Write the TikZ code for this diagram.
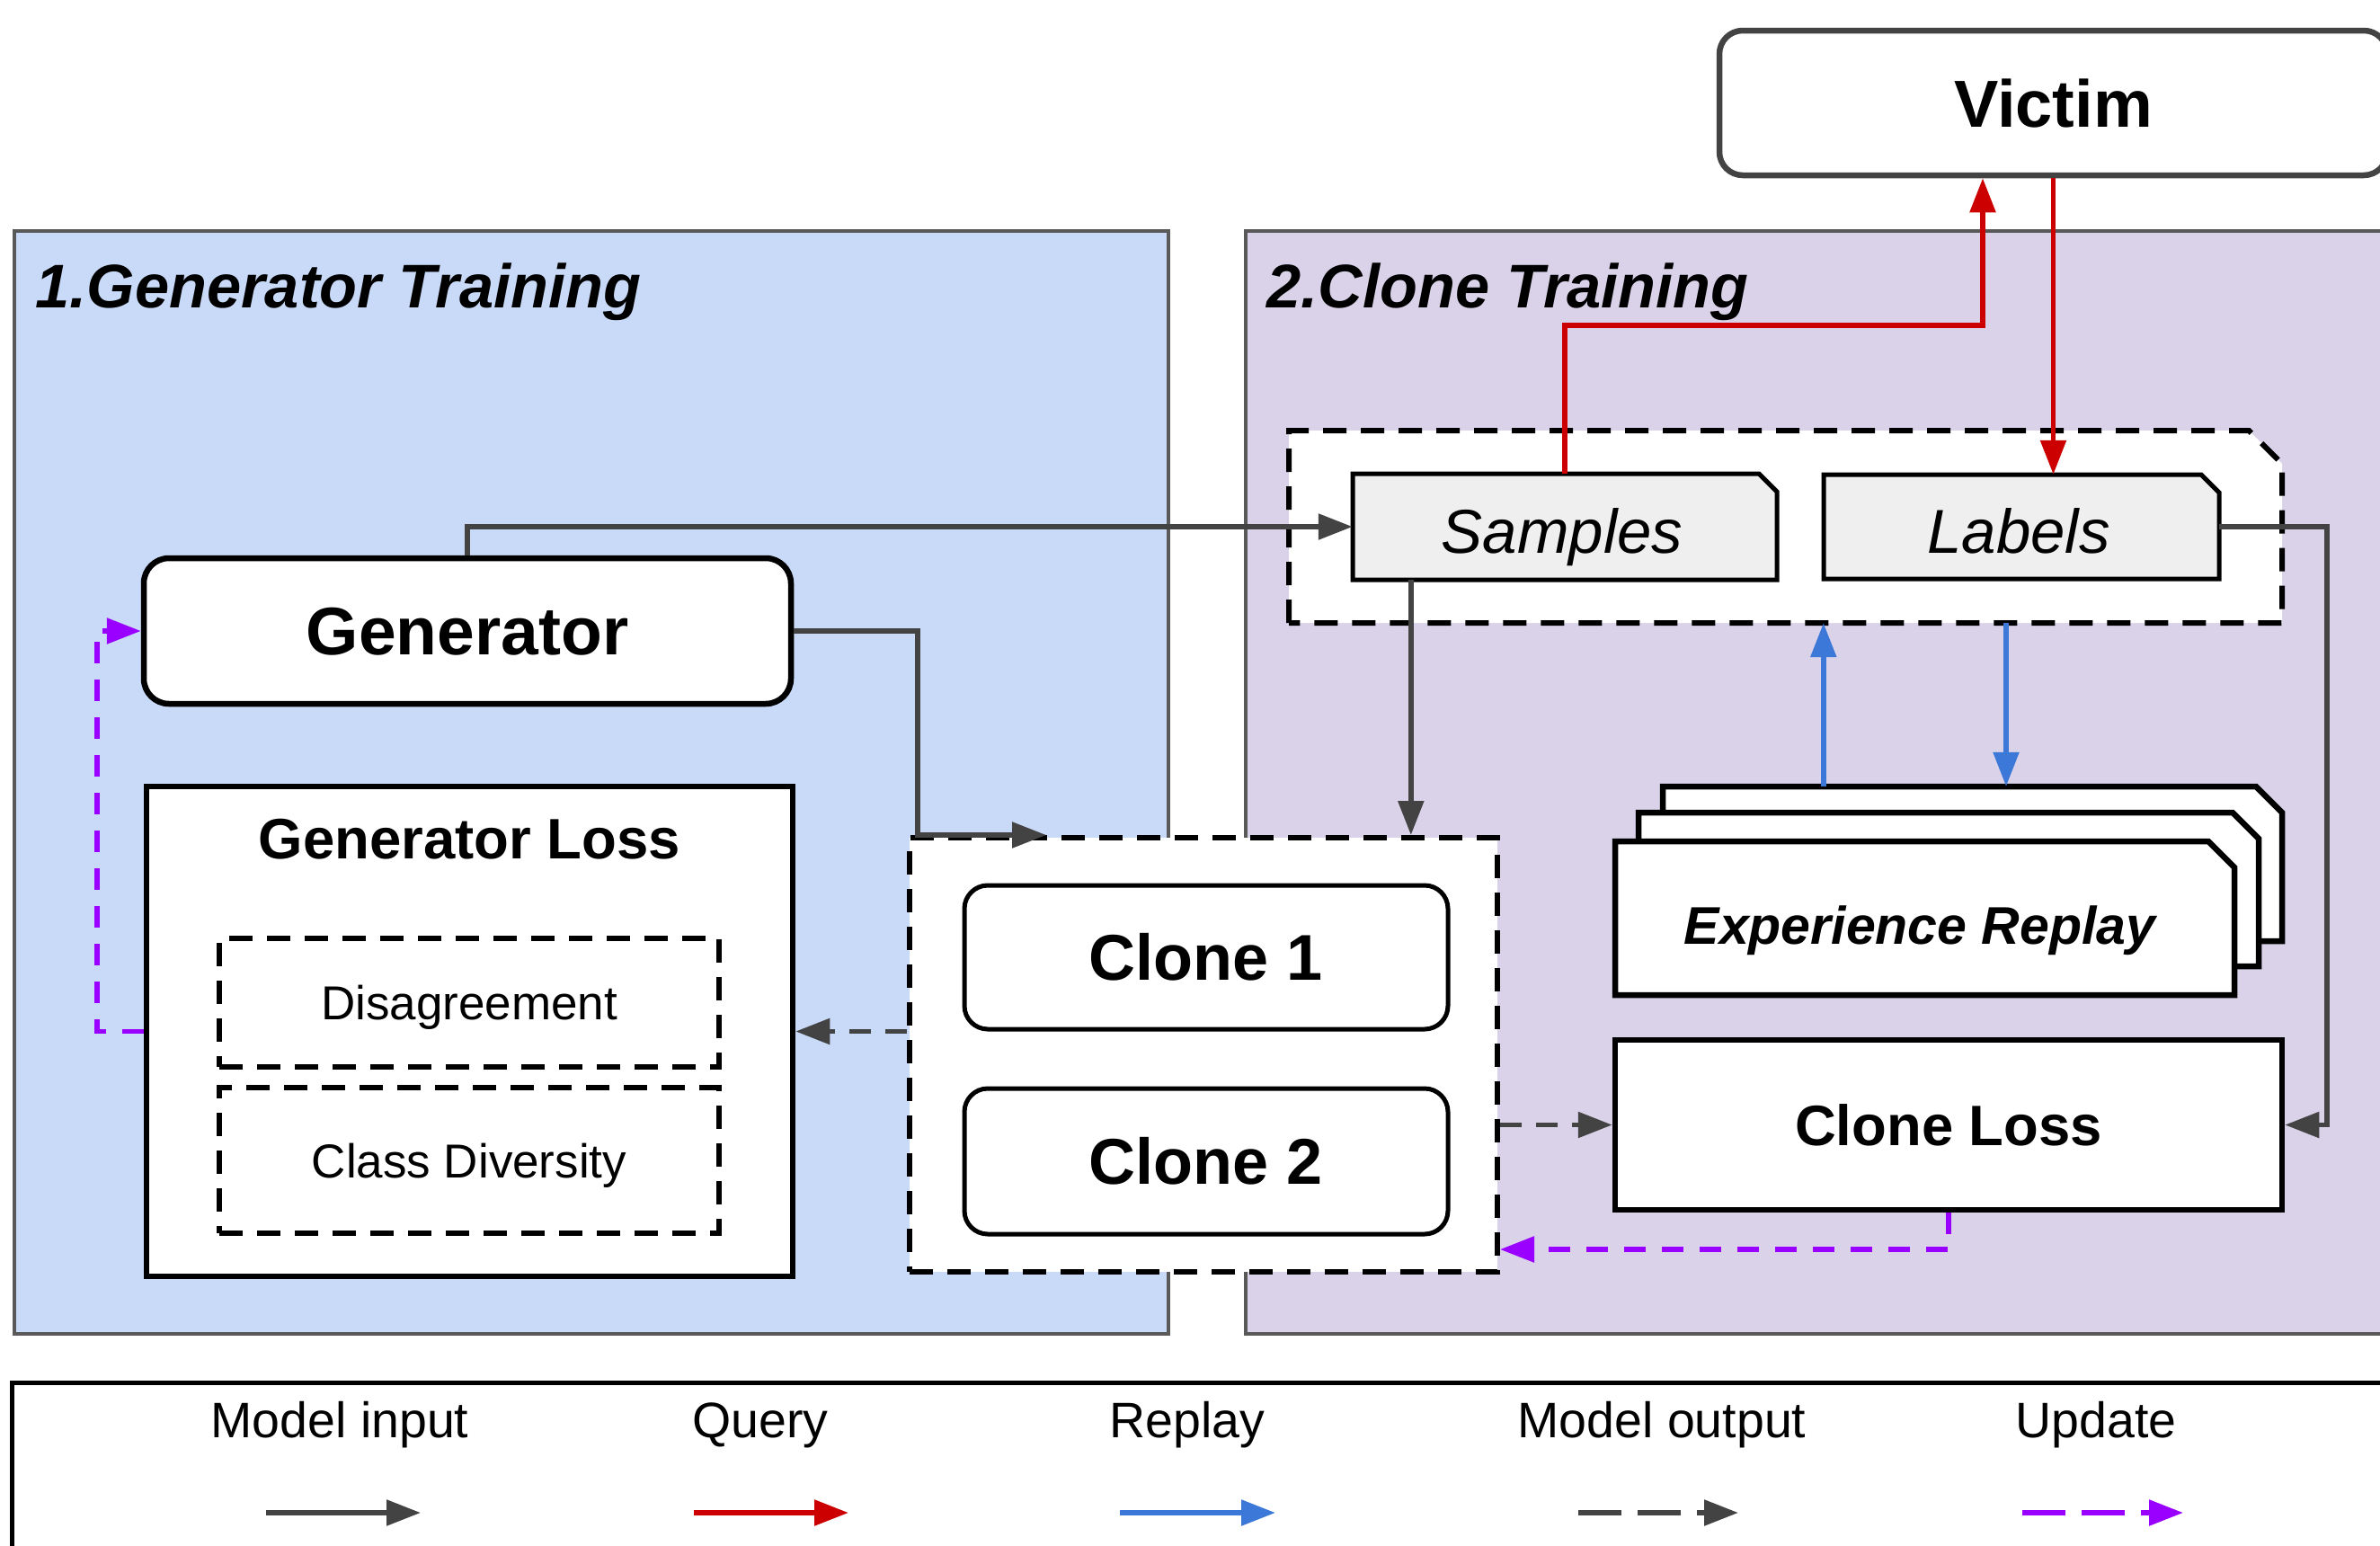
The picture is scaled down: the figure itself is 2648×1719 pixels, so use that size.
\documentclass[tikz,border=0pt]{standalone}
\usepackage{fontspec}
\setmainfont{Liberation Sans}
\usepackage{tikz}
\usetikzlibrary{
    arrows.meta
}

\definecolor{panelblue}{HTML}{C9DAF8}
\definecolor{panelpurple}{HTML}{D9D2E9}
\definecolor{panelline}{HTML}{595959}
\definecolor{darkline}{HTML}{434343}
\definecolor{queryred}{HTML}{CC0000}
\definecolor{replayblue}{HTML}{3C78D8}
\definecolor{updatepurple}{HTML}{9900FF}
\definecolor{sheetgray}{HTML}{EFEFEF}

\begin{document}
\begin{tikzpicture}[x=1pt, y=-1pt,
    headtip/.style={-{Triangle[length=38pt, width=28pt]}},
    inarrow/.style={headtip, draw=darkline, line width=5.5pt},
    qarrow/.style={headtip, draw=queryred, line width=5.5pt},
    rarrow/.style={headtip, draw=replayblue, line width=5.5pt},
    outarrow/.style={inarrow, dash pattern=on 24pt off 16pt},
    uparrow/.style={headtip, draw=updatepurple, line width=5.5pt, dash pattern=on 24pt off 18pt},
    paneltitle/.style={anchor=base west, font=\fontsize{68.6pt}{80pt}\selectfont\bfseries\itshape},
    roundbox/.style={draw=black, fill=white, line width=6.5pt, rounded corners=28pt, inner sep=0pt},
    plainbox/.style={draw=black, fill=white, line width=6.5pt, inner sep=0pt},
    dashbox/.style={draw=black, fill=white, line width=6pt, dash pattern=on 26pt off 16pt, inner sep=0pt},
    sheetlabel/.style={inner sep=0pt, text height=49.4pt, text depth=0pt, font=\fontsize{69pt}{80pt}\selectfont\itshape},
    partlabel/.style={text height=38pt, text depth=0pt, font=\fontsize{53pt}{64pt}\selectfont},
    legendlabel/.style={anchor=base, font=\fontsize{55.5pt}{66pt}\selectfont}
]
\useasboundingbox (0,0) rectangle (2648,1719);

% Panels
\draw[fill=panelblue, draw=panelline, line width=3.5pt] (16,257) rectangle (1300,1484);
\draw[fill=panelpurple, draw=panelline, line width=3.5pt] (1386,257) rectangle (2700,1484);
\node[paneltitle] (gentitle) at (36,342) {1.Generator Training};
\node[paneltitle] (clonetitle) at (1406,342) {2.Clone Training};

% Victim
\node[roundbox, draw=darkline, rounded corners=26pt, minimum width=743pt, minimum height=161pt,
      text height=53pt, text depth=0pt, font=\fontsize{74pt}{88pt}\selectfont\bfseries]
      (victim) at (2284.5,114.5) {Victim};

% Generator
\node[roundbox, minimum width=720pt, minimum height=162pt,
      text height=53.7pt, text depth=0pt, font=\fontsize{75pt}{90pt}\selectfont\bfseries]
      (gen) at (520,702) {Generator};

% Generator loss
\node[plainbox, minimum width=719pt, minimum height=545pt] (genloss) at (522.5,1147.5) {};
\node[anchor=base, font=\fontsize{63.5pt}{76pt}\selectfont\bfseries] (genlosstitle) at (522.5,955) {Generator Loss};
\node[dashbox, partlabel, line width=5.5pt, minimum width=556pt, minimum height=143pt] (disagree) at (522,1115.5) {Disagreement};
\node[dashbox, partlabel, line width=5.5pt, minimum width=556pt, minimum height=162pt] (diverse) at (522,1291) {Class Diversity};

% Clones
\node[dashbox, minimum width=654pt, minimum height=483pt] (clones) at (1339,1173.5) {};
\node[roundbox, line width=5pt, rounded corners=26pt, minimum width=538pt, minimum height=160pt,
      text height=51.5pt, text depth=0pt, font=\fontsize{72pt}{86pt}\selectfont\bfseries]
      (clone1) at (1342,1065) {Clone 1};
\node[roundbox, line width=5pt, rounded corners=26pt, minimum width=538pt, minimum height=162pt,
      text height=51.5pt, text depth=0pt, font=\fontsize{72pt}{86pt}\selectfont\bfseries]
      (clone2) at (1342,1292) {Clone 2};

% Samples and labels
\draw[fill=white, line width=6pt, dash pattern=on 26pt off 16pt] (1434,693) -- (1434,479) -- (2502,479) -- (2539,516) -- (2539,693) -- cycle;
\node[minimum width=1105pt, minimum height=214pt] (samplebox) at (1986.5,586) {};
\draw[fill=sheetgray, line width=5pt] (1505,645) -- (1505,527) -- (1957,527) -- (1977,547) -- (1977,645) -- cycle;
\node[sheetlabel, minimum width=472pt, minimum height=118pt] (samples) at (1741,586) {};
\node[sheetlabel] (samplestext) at (1738,591) {Samples};
\draw[fill=sheetgray, line width=5pt] (2029,644) -- (2029,528) -- (2449,528) -- (2469,548) -- (2469,644) -- cycle;
\node[sheetlabel, minimum width=440pt, minimum height=116pt] (labels) at (2249,586) {};
\node[sheetlabel] (labelstext) at (2246,591) {Labels};

% Experience replay
\draw[fill=white, line width=6.5pt] (1850,1047) -- (1850,875) -- (2510,875) -- (2539,904) -- (2539,1047) -- cycle;
\node[minimum width=689pt, minimum height=172pt] (replay3) at (2194.5,961) {};
\draw[fill=white, line width=6.5pt] (1823,1075) -- (1823,904) -- (2484,904) -- (2513,933) -- (2513,1075) -- cycle;
\draw[fill=white, line width=6.5pt] (1797,1107) -- (1797,936) -- (2457,936) -- (2486,965) -- (2486,1107) -- cycle;
\node[inner sep=0pt, minimum width=689pt, minimum height=171pt, text height=42.2pt, text depth=0pt,
      font=\fontsize{59pt}{70pt}\selectfont\bfseries\itshape] (replay) at (2136,1029) {Experience Replay};

% Clone loss
\node[plainbox, minimum width=742pt, minimum height=189pt,
      text height=45.4pt, text depth=0pt, font=\fontsize{63.4pt}{76pt}\selectfont\bfseries]
      (closs) at (2168,1251.5) {Clone Loss};

% Model input
\coordinate (sdrop) at ([xshift=65pt]samples.south west);
\draw[inarrow] (gen.north) |- (samples.west);
\draw[inarrow] (gen.east) -| ([xshift=12pt]clones.north west) -- ([xshift=155pt]clones.north west);
\draw[inarrow] (sdrop) -- (sdrop |- clones.north);
\draw[inarrow] (labels.east) -- ++(120,0) |- (closs.east);

% Query
\coordinate (qbend) at (2206,362);
\draw[qarrow] (samples.north) |- (qbend) -- (qbend |- victim.south);
\draw[qarrow] (victim.south) -- (victim.south |- labels.north);

% Replay
\coordinate (rdown) at (2232,0);
\draw[rarrow] (replay3.north -| labels.west) -- (samplebox.south -| labels.west);
\draw[rarrow] (samplebox.south -| rdown) -- (replay3.north -| rdown);

% Model output
\draw[outarrow] (clones.east |- closs.west) -- (closs.west);
\draw[outarrow] (clones.west |- genloss.east) -- (genloss.east);

% Update
\draw[uparrow] (closs.south) |- ([yshift=28pt]clones.south east);
\draw[uparrow] (genloss.west) -- ++(-52,0) |- (gen.west);

% Legend
\draw[line width=5pt] (13,1538) rectangle (2700,1760);
\node[legendlabel] (leg1) at (378,1599) {Model input};
\node[legendlabel] (leg2) at (846,1599) {Query};
\node[legendlabel] (leg3) at (1321,1599) {Replay};
\node[legendlabel] (leg4) at (1849,1599) {Model output};
\node[legendlabel] (leg5) at (2332,1599) {Update};
\coordinate (l1a) at (296,1683); \coordinate (l1b) at (468,1683);
\coordinate (l2a) at (772,1683); \coordinate (l2b) at (944,1683);
\coordinate (l3a) at (1246,1683); \coordinate (l3b) at (1419,1683);
\coordinate (l4a) at (1756,1683); \coordinate (l4b) at (1934,1683);
\coordinate (l5a) at (2250,1683); \coordinate (l5b) at (2429,1683);
\draw[inarrow] (l1a) -- (l1b);
\draw[qarrow] (l2a) -- (l2b);
\draw[rarrow] (l3a) -- (l3b);
\draw[outarrow, dash pattern=on 48pt off 18pt] (l4a) -- (l4b);
\draw[uparrow, dash pattern=on 48pt off 18pt] (l5a) -- (l5b);

\end{tikzpicture}
\end{document}
